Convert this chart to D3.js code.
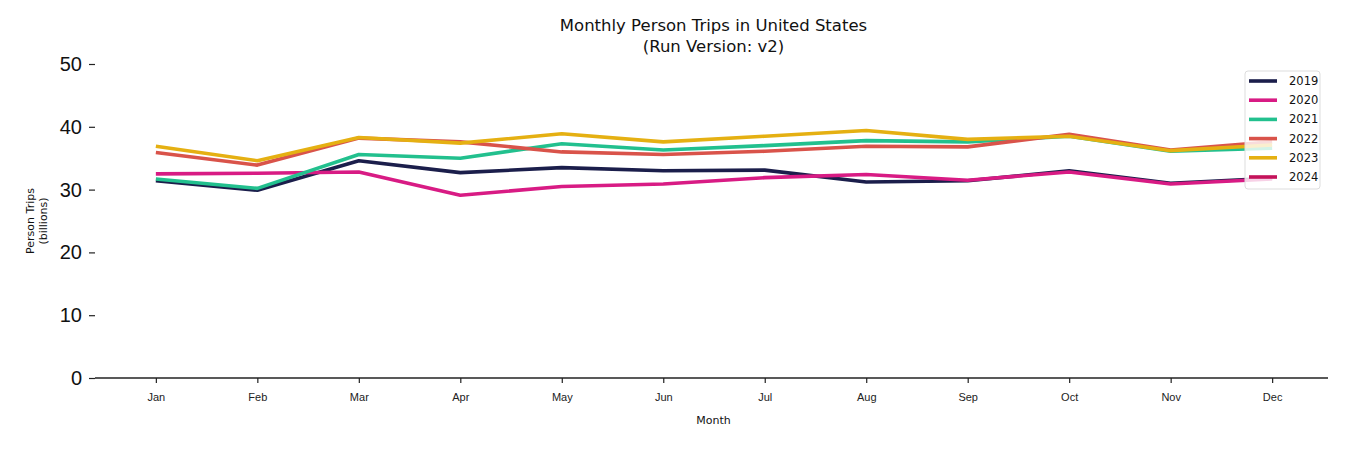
<!DOCTYPE html>
<html>
<head>
<meta charset="utf-8">
<script src="https://cdn.jsdelivr.net/npm/d3@7"></script>
<style>
  body { margin: 0; background: #fff; }
  svg { font-family: "DejaVu Sans", sans-serif; }
</style>
</head>
<body>
<svg id="chart"></svg>
<script>
// ---- data (billions of person trips) ----
const months = ["Jan", "Feb", "Mar", "Apr", "May", "Jun", "Jul", "Aug", "Sep", "Oct", "Nov", "Dec"];
const years = ["2019", "2020", "2021", "2022", "2023", "2024"];
const trips2019 = [31.4, 29.9, 34.6, 32.7, 33.5, 33.0, 33.1, 31.2, 31.4, 33.0, 31.0, 31.8];
const trips2020 = [32.5, 32.6, 32.8, 29.1, 30.5, 30.9, 31.9, 32.4, 31.5, 32.8, 30.9, 31.7];
const trips2021 = [31.7, 30.2, 35.6, 35.0, 37.3, 36.3, 37.0, 37.8, 37.6, 38.5, 36.1, 36.6];
const trips2022 = [35.9, 33.9, 38.2, 37.6, 36.0, 35.6, 36.1, 36.9, 36.8, 38.8, 36.3, 37.6];
const trips2023 = [36.9, 34.6, 38.3, 37.4, 38.9, 37.6, 38.5, 39.4, 38.0, 38.5, 36.2, 37.1];
const trips2024 = []; // listed in the legend, no points drawn
const yTicks = [0, 10, 20, 30, 40, 50];
const colors = ["#1b1e4b", "#d81b84", "#22c08e", "#d9534a", "#e5b012", "#c4125a"];

const seriesValues = [trips2019, trips2020, trips2021, trips2022, trips2023, trips2024];
const series = years.map((y, i) => ({ year: y, color: colors[i], values: seriesValues[i] }));

// ---- svg ----
const width = 1350, height = 450;
const margin = { left: 95, right: 22, top: 64, bottom: 72 };

const svg = d3.select("#chart").attr("width", width).attr("height", height);

const x = d3.scalePoint()
  .domain(months)
  .range([97, 1331])
  .padding(0.58);

const y = d3.scaleLinear()
  .domain([0, 50])
  .range([height - margin.bottom, margin.top]);

// ---- axes ----
const xAxis = svg.append("g")
  .attr("transform", `translate(0,${height - margin.bottom})`)
  .call(d3.axisBottom(x).tickSize(5).tickPadding(10));
xAxis.select(".domain").attr("stroke", "#222").attr("stroke-width", 1.4)
  .attr("d", `M${margin.left},0H${width - margin.right}`);
xAxis.selectAll(".tick line").attr("stroke", "#222").attr("stroke-width", 1.2);
xAxis.selectAll(".tick text").attr("font-size", 11).attr("fill", "#222");

const yAxis = svg.append("g")
  .attr("transform", `translate(${margin.left},0)`)
  .call(d3.axisLeft(y).tickValues(yTicks).tickSize(6).tickPadding(7));
yAxis.select(".domain").remove();
yAxis.selectAll(".tick line").attr("stroke", "#222").attr("stroke-width", 1.2);
yAxis.selectAll(".tick text").attr("font-size", 20).attr("fill", "#111");

// ---- labels ----
const cx = (margin.left + width - margin.right) / 2 + 2;
svg.append("text")
  .attr("x", cx)
  .attr("y", 31)
  .attr("text-anchor", "middle")
  .attr("font-size", 16.5)
  .attr("fill", "#111")
  .text("Monthly Person Trips in United States");
svg.append("text")
  .attr("x", cx)
  .attr("y", 52)
  .attr("text-anchor", "middle")
  .attr("font-size", 16.5)
  .attr("fill", "#111")
  .text("(Run Version: v2)");

svg.append("text")
  .attr("x", cx)
  .attr("y", 424)
  .attr("text-anchor", "middle")
  .attr("font-size", 11)
  .attr("fill", "#111")
  .text("Month");

const yLab = svg.append("text")
  .attr("transform", "translate(34,221) rotate(-90)")
  .attr("text-anchor", "middle")
  .attr("font-size", 11)
  .attr("fill", "#111");
yLab.append("tspan").attr("x", 0).attr("dy", 0).text("Person Trips");
yLab.append("tspan").attr("x", 0).attr("dy", 13).text("(billions)");

// ---- lines ----
const line = d3.line()
  .x((d, i) => x(months[i]))
  .y(d => y(d));

svg.append("g")
  .selectAll("path")
  .data(series.filter(s => s.values.length))
  .join("path")
    .attr("fill", "none")
    .attr("stroke", d => d.color)
    .attr("stroke-width", 3.6)
    .attr("stroke-linejoin", "round")
    .attr("d", d => line(d.values));

// ---- legend ----
const legend = svg.append("g").attr("transform", "translate(1245,71)");
legend.append("rect")
  .attr("width", 75).attr("height", 118)
  .attr("rx", 3)
  .attr("fill", "#fff").attr("fill-opacity", 0.8)
  .attr("stroke", "#ddd");

const item = legend.selectAll("g.item")
  .data(series)
  .join("g")
    .attr("class", "item")
    .attr("transform", (d, i) => `translate(0,${10 + i * 19.2})`);
item.append("line")
  .attr("x1", 4).attr("x2", 32)
  .attr("stroke", d => d.color)
  .attr("stroke-width", 3.6);
item.append("text")
  .attr("x", 44).attr("y", 4)
  .attr("font-size", 11.5)
  .attr("fill", "#111")
  .text(d => d.year);
</script>
</body>
</html>
